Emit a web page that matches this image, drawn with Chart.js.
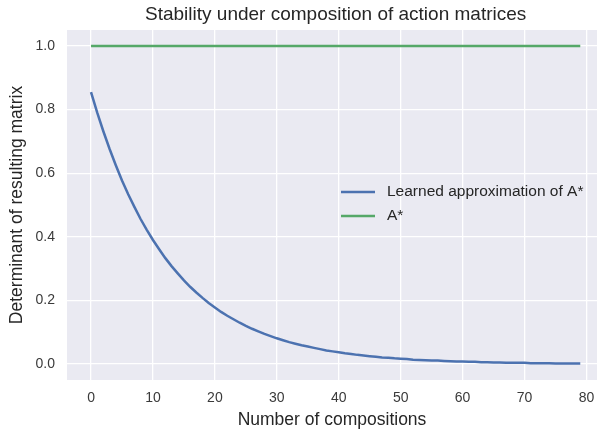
<!DOCTYPE html>
<html>
<head>
<meta charset="utf-8">
<script src="https://cdn.jsdelivr.net/npm/chart.js@4"></script>
<style>
  body { margin: 0; background: #ffffff; }
  #chart { display: block; }
</style>
</head>
<body>
<canvas id="chart" width="597" height="431"></canvas>
<script>
// Number of compositions (x values)
const compositions = [
  0, 1, 2, 3, 4, 5, 6, 7, 8, 9,
  10, 11, 12, 13, 14, 15, 16, 17, 18, 19,
  20, 21, 22, 23, 24, 25, 26, 27, 28, 29,
  30, 31, 32, 33, 34, 35, 36, 37, 38, 39,
  40, 41, 42, 43, 44, 45, 46, 47, 48, 49,
  50, 51, 52, 53, 54, 55, 56, 57, 58, 59,
  60, 61, 62, 63, 64, 65, 66, 67, 68, 69,
  70, 71, 72, 73, 74, 75, 76, 77, 78, 79
];

// Determinant of the learned approximation
const learnedDet = [
  0.855, 0.790, 0.731, 0.676, 0.625, 0.577, 0.534, 0.494, 0.456, 0.422,
  0.390, 0.361, 0.333, 0.308, 0.285, 0.263, 0.243, 0.225, 0.208, 0.192,
  0.178, 0.164, 0.152, 0.141, 0.130, 0.120, 0.111, 0.103, 0.095, 0.088,
  0.081, 0.075, 0.069, 0.064, 0.059, 0.055, 0.051, 0.047, 0.043, 0.040,
  0.037, 0.034, 0.032, 0.029, 0.027, 0.025, 0.023, 0.021, 0.020, 0.018,
  0.017, 0.016, 0.014, 0.013, 0.012, 0.011, 0.011, 0.010, 0.009, 0.008,
  0.008, 0.007, 0.007, 0.006, 0.006, 0.005, 0.005, 0.004, 0.004, 0.004,
  0.004, 0.003, 0.003, 0.003, 0.003, 0.002, 0.002, 0.002, 0.002, 0.002
];

// Determinant of A* (always 1)
const trueDet = [
  1.0, 1.0, 1.0, 1.0, 1.0, 1.0, 1.0, 1.0, 1.0, 1.0,
  1.0, 1.0, 1.0, 1.0, 1.0, 1.0, 1.0, 1.0, 1.0, 1.0,
  1.0, 1.0, 1.0, 1.0, 1.0, 1.0, 1.0, 1.0, 1.0, 1.0,
  1.0, 1.0, 1.0, 1.0, 1.0, 1.0, 1.0, 1.0, 1.0, 1.0,
  1.0, 1.0, 1.0, 1.0, 1.0, 1.0, 1.0, 1.0, 1.0, 1.0,
  1.0, 1.0, 1.0, 1.0, 1.0, 1.0, 1.0, 1.0, 1.0, 1.0,
  1.0, 1.0, 1.0, 1.0, 1.0, 1.0, 1.0, 1.0, 1.0, 1.0,
  1.0, 1.0, 1.0, 1.0, 1.0, 1.0, 1.0, 1.0, 1.0, 1.0
];

const seriesNames = ['Learned approximation of A*', 'A*'];
const xTicks = [0, 10, 20, 30, 40, 50, 60, 70, 80];
const yTicks = [0.0, 0.2, 0.4, 0.6, 0.8, 1.0];
const chartTitle = 'Stability under composition of action matrices';

const FONT = "'Liberation Sans', Arial, sans-serif";
const TEXT = '#262626';
const TICK_TEXT = '#3a3a3a';

// Gray axes background like seaborn darkgrid
const backgroundPlugin = {
    id: 'axesBackground',
    beforeDraw(chart) {
        const { ctx, chartArea } = chart;
        ctx.save();
        ctx.fillStyle = '#EAEAF2';
        ctx.fillRect(chartArea.left, chartArea.top, chartArea.right - chartArea.left, chartArea.bottom - chartArea.top);
        ctx.restore();
    }
};

// Title centred over the (uncropped) axes, plus a frameless legend inside the plot
const overlayPlugin = {
    id: 'overlay',
    afterDraw(chart) {
        const { ctx, chartArea } = chart;
        const xs = chart.scales.x;
        ctx.save();
        ctx.fillStyle = TEXT;
        ctx.font = '19px ' + FONT;
        ctx.textAlign = 'center';
        ctx.textBaseline = 'middle';
        ctx.fillText(chartTitle, xs.getPixelForValue(39.5), 15);

        // legend
        const lx = chartArea.left + 274;
        const ly = chartArea.top + 162;
        ctx.font = '15.5px ' + FONT;
        ctx.textAlign = 'left';
        chart.data.datasets.forEach((ds, i) => {
            const y = ly + i * 24;
            ctx.strokeStyle = ds.borderColor;
            ctx.lineWidth = 2.5;
            ctx.beginPath();
            ctx.moveTo(lx, y);
            ctx.lineTo(lx + 34, y);
            ctx.stroke();
            ctx.fillStyle = TEXT;
            ctx.fillText(ds.label, lx + 46, y);
        });
        ctx.restore();
    }
};

const ctx = document.getElementById('chart').getContext('2d');
const chart = new Chart(ctx, {
    type: 'line',
    data: {
        labels: compositions,
        datasets: [
            {
                label: seriesNames[0],
                data: learnedDet,
                borderColor: '#4C72B0',
                borderWidth: 2.5,
                pointRadius: 0,
                tension: 0,
                fill: false
            },
            {
                label: seriesNames[1],
                data: trueDet,
                borderColor: '#55A868',
                borderWidth: 2.5,
                pointRadius: 0,
                tension: 0,
                fill: false
            }
        ]
    },
    options: {
        responsive: false,
        animation: false,
        layout: { padding: { top: 30, right: 0, bottom: 0, left: 0 } },
        plugins: {
            legend: { display: false },
            title: { display: false },
            tooltip: { enabled: false }
        },
        scales: {
            x: {
                type: 'linear',
                min: -3.88,
                max: 81.7,
                afterBuildTicks(axis) {
                    axis.ticks = xTicks.map(v => ({ value: v }));
                },
                afterFit(axis) {
                    axis.height = 51;
                    // plot runs to the canvas edge, no room kept for the last label
                    axis.paddingLeft = 0;
                    axis.paddingRight = 0;
                },
                border: { display: false },
                grid: { color: '#ffffff', lineWidth: 1.3, drawTicks: false },
                ticks: {
                    color: TICK_TEXT,
                    padding: 10,
                    maxRotation: 0,
                    font: { family: FONT, size: 14 },
                    callback: v => String(v)
                },
                title: {
                    display: true,
                    text: 'Number of compositions',
                    color: TEXT,
                    font: { family: FONT, size: 17.5 },
                    padding: { top: 0, bottom: 0.5 }
                }
            },
            y: {
                min: -0.05,
                max: 1.05,
                afterBuildTicks(axis) {
                    axis.ticks = yTicks.map(v => ({ value: v }));
                },
                afterFit(axis) { axis.width = 67; },
                border: { display: false },
                grid: { color: '#ffffff', lineWidth: 1.3, drawTicks: false },
                ticks: {
                    color: TICK_TEXT,
                    padding: 12,
                    font: { family: FONT, size: 14 },
                    callback: v => v.toFixed(1)
                },
                title: {
                    display: true,
                    text: 'Determinant of resulting matrix',
                    color: TEXT,
                    font: { family: FONT, size: 17.5 },
                    padding: { top: 6.5, bottom: 0 }
                }
            }
        }
    },
    plugins: [backgroundPlugin, overlayPlugin]
});
</script>
</body>
</html>
